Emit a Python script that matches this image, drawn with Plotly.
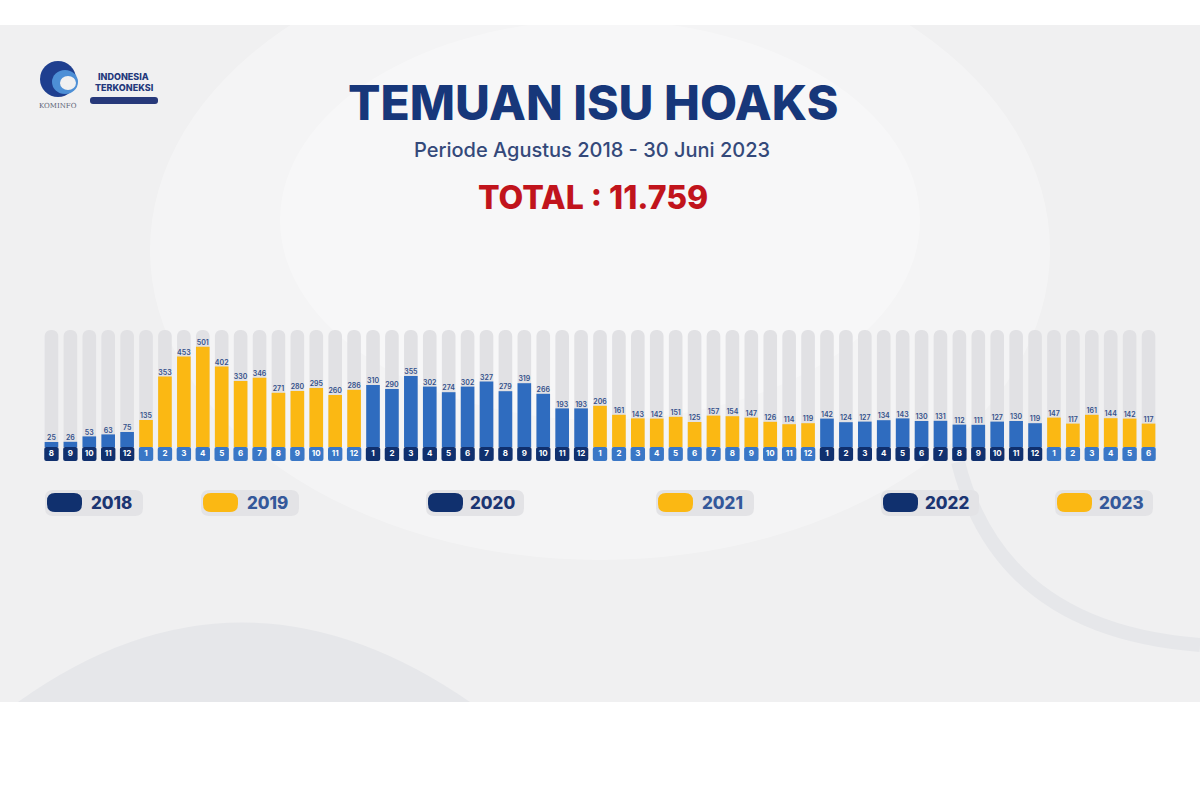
import plotly.graph_objects as go

# ---------------- data ----------------
months_2018 = ["8", "9", "10", "11", "12"]
months_full = ["1", "2", "3", "4", "5", "6", "7", "8", "9", "10", "11", "12"]
months_2023 = ["1", "2", "3", "4", "5", "6"]

v2018 = [25, 26, 53, 63, 75]
v2019 = [135, 353, 453, 501, 402, 330, 346, 271, 280, 295, 260, 286]
v2020 = [310, 290, 355, 302, 274, 302, 327, 279, 319, 266, 193, 193]
v2021 = [206, 161, 143, 142, 151, 125, 157, 154, 147, 126, 114, 119]
v2022 = [142, 124, 127, 134, 143, 130, 131, 112, 111, 127, 130, 119]
v2023 = [147, 117, 161, 144, 142, 117]

years = ["2018", "2019", "2020", "2021", "2022", "2023"]
year_values = [v2018, v2019, v2020, v2021, v2022, v2023]
year_months = [months_2018, months_full, months_full, months_full, months_full, months_2023]

title = "TEMUAN ISU HOAKS"
subtitle = "Periode Agustus 2018 - 30 Juni 2023"
total_text = "TOTAL : 11.759"

# ---------------- styles ----------------
NAVY = "#10306e"
BLUE = "#2f6cbf"
YELLOW = "#fbb813"
BOX_BLUE = "#3a77c6"
TRACK = "#e1e1e4"
LABEL = "#34508a"

year_bar_color = {"2018": BLUE, "2019": YELLOW, "2020": BLUE, "2021": YELLOW, "2022": BLUE, "2023": YELLOW}
year_box_color = {"2018": NAVY, "2019": BOX_BLUE, "2020": NAVY, "2021": BOX_BLUE, "2022": NAVY, "2023": BOX_BLUE}
year_text_color = {"2018": "#1b3572", "2019": "#34589a", "2020": "#1b3572", "2021": "#34589a", "2022": "#1b3572", "2023": "#34589a"}

TRACK_TOP = 585
BOX_DEPTH = 70

values, months, bar_cols, box_cols = [], [], [], []
for y, vals, ms in zip(years, year_values, year_months):
    values += vals
    months += ms
    bar_cols += [year_bar_color[y]] * len(vals)
    box_cols += [year_box_color[y]] * len(vals)
idx = list(range(len(values)))

# plot area in pixels
ML, MR, MT, MB = 42, 42, 330, 339
W, H = 1200, 800
PW = W - ML - MR
PH = H - MT - MB


def px(x):
    return (x - ML) / PW


def py(y):
    return (H - MB - y) / PH


fig = go.Figure()

fig.add_trace(go.Bar(x=idx, y=[TRACK_TOP + BOX_DEPTH] * len(idx), base=-BOX_DEPTH,
                     width=0.72, marker=dict(color=TRACK, line_width=0, cornerradius=7),
                     hoverinfo="skip"))
fig.add_trace(go.Bar(x=idx, y=values, width=0.72,
                     marker=dict(color=bar_cols, line_width=0, cornerradius=6),
                     hovertemplate="%{y}<extra></extra>"))
fig.add_trace(go.Bar(x=idx, y=[BOX_DEPTH] * len(idx), base=-BOX_DEPTH, width=0.76,
                     marker=dict(color=box_cols, line_width=0, cornerradius=2),
                     hoverinfo="skip"))
fig.add_trace(go.Scatter(x=idx, y=values, mode="text", text=[str(v) for v in values],
                         textposition="top center",
                         textfont=dict(size=7, color=LABEL, family="Inter", weight=600),
                         cliponaxis=False, hoverinfo="skip"))
fig.add_trace(go.Scatter(x=idx, y=[-BOX_DEPTH / 2] * len(idx), mode="text", text=months,
                         textposition="middle center",
                         textfont=dict(size=8, color="white", family="Inter", weight=700),
                         cliponaxis=False, hoverinfo="skip"))

shapes = []
# background panel
shapes.append(dict(type="rect", xref="paper", yref="paper", x0=px(0), x1=px(1200), y0=py(702), y1=py(25),
                   fillcolor="#f0f0f1", line_width=0, layer="below"))
# soft white glow in center
shapes.append(dict(type="circle", xref="paper", yref="paper", x0=px(150), x1=px(1050), y0=py(560), y1=py(-60),
                   fillcolor="rgba(255,255,255,0.3)", line_width=0, layer="below"))
shapes.append(dict(type="circle", xref="paper", yref="paper", x0=px(280), x1=px(920), y0=py(420), y1=py(20),
                   fillcolor="rgba(255,255,255,0.3)", line_width=0, layer="below"))
# bottom-left dome
p = "M {} {} Q {} {} {} {} Z".format(px(18), py(702), px(240), py(543), px(470), py(702))
shapes.append(dict(type="path", xref="paper", yref="paper", path=p,
                   fillcolor="#e6e7ea", line_width=0, layer="below"))
# right arc band
p2 = "M {} {} Q {} {} {} {}".format(px(958), py(462), px(1000), py(630), px(1200), py(645))
shapes.append(dict(type="path", xref="paper", yref="paper", path=p2,
                   line=dict(color="#e6e7ea", width=14), layer="below"))


def rounded(x0, y0, x1, y1, r):
    return ("M {a} {b} L {c} {b} Q {x1} {b} {x1} {d} L {x1} {e} Q {x1} {y1} {c} {y1} "
            "L {a} {y1} Q {x0} {y1} {x0} {e} L {x0} {d} Q {x0} {b} {a} {b} Z").format(
        a=px(x0 + r), c=px(x1 - r), b=py(y0), d=py(y0 + r), e=py(y1 - r),
        x0=px(x0), x1=px(x1), y1=py(y1))


annotations = []
legend_pos = {"2018": 47, "2019": 203, "2020": 428, "2021": 658, "2022": 883, "2023": 1057}
for y in years:
    x0 = legend_pos[y]
    shapes.append(dict(type="path", xref="paper", yref="paper", path=rounded(x0 - 2, 490, x0 + 96, 516, 8),
                       fillcolor="#e3e3e6", line_width=0, layer="below"))
    shapes.append(dict(type="path", xref="paper", yref="paper", path=rounded(x0, 493, x0 + 35, 512, 8),
                       fillcolor=year_bar_color[y] if year_bar_color[y] == YELLOW else NAVY,
                       line_width=0, layer="below"))
    annotations.append(dict(xref="paper", yref="paper", x=px(x0 + 64), y=py(503), text=y, showarrow=False,
                            xanchor="center", yanchor="middle",
                            font=dict(size=17, color=year_text_color[y], family="Inter", weight=800)))

# titles
annotations.append(dict(xref="paper", yref="paper", x=px(593), y=py(102), text=title, showarrow=False,
                        xanchor="center", yanchor="middle",
                        font=dict(size=48, color="#17377a", family="Inter", weight=800)))
annotations.append(dict(xref="paper", yref="paper", x=px(592), y=py(150), text=subtitle, showarrow=False,
                        xanchor="center", yanchor="middle",
                        font=dict(size=20, color="#34497a", family="Inter", weight=500)))
annotations.append(dict(xref="paper", yref="paper", x=px(593), y=py(197), text=total_text, showarrow=False,
                        xanchor="center", yanchor="middle",
                        font=dict(size=32, color="#c1141c", family="Inter", weight=800)))

# logo
shapes.append(dict(type="circle", xref="paper", yref="paper", x0=px(40), x1=px(76), y0=py(97), y1=py(61),
                   fillcolor="#1f3f8f", line_width=0, layer="below"))
shapes.append(dict(type="circle", xref="paper", yref="paper", x0=px(52), x1=px(78), y0=py(94), y1=py(70),
                   fillcolor="#4d8fd6", line_width=0, layer="below"))
shapes.append(dict(type="circle", xref="paper", yref="paper", x0=px(60), x1=px(76), y0=py(90), y1=py(76),
                   fillcolor="#f0f0f1", line_width=0, layer="below"))
shapes.append(dict(type="path", xref="paper", yref="paper", path=rounded(90, 97, 158, 104, 3),
                   fillcolor="#27397a", line_width=0, layer="below"))
annotations.append(dict(xref="paper", yref="paper", x=px(58), y=py(106), text="KOMINFO", showarrow=False,
                        xanchor="center", yanchor="middle",
                        font=dict(size=7, color="#5a6275", family="DejaVu Serif")))
annotations.append(dict(xref="paper", yref="paper", x=px(123), y=py(76), text="INDONESIA", showarrow=False,
                        xanchor="center", yanchor="middle",
                        font=dict(size=9, color="#24397c", family="Inter", weight=800)))
annotations.append(dict(xref="paper", yref="paper", x=px(124), y=py(88), text="TERKONEKSI", showarrow=False,
                        xanchor="center", yanchor="middle",
                        font=dict(size=9, color="#24397c", family="Inter", weight=800)))

fig.update_layout(
    width=W, height=H,
    margin=dict(l=ML, r=MR, t=MT, b=MB, pad=0),
    barmode="overlay",
    showlegend=False,
    paper_bgcolor="white",
    plot_bgcolor="rgba(0,0,0,0)",
    xaxis=dict(visible=False, range=[-0.5, len(idx) - 0.5], fixedrange=True),
    yaxis=dict(visible=False, range=[-BOX_DEPTH, TRACK_TOP], fixedrange=True),
    shapes=shapes,
    annotations=annotations,
)

fig.write_html("out.html")
